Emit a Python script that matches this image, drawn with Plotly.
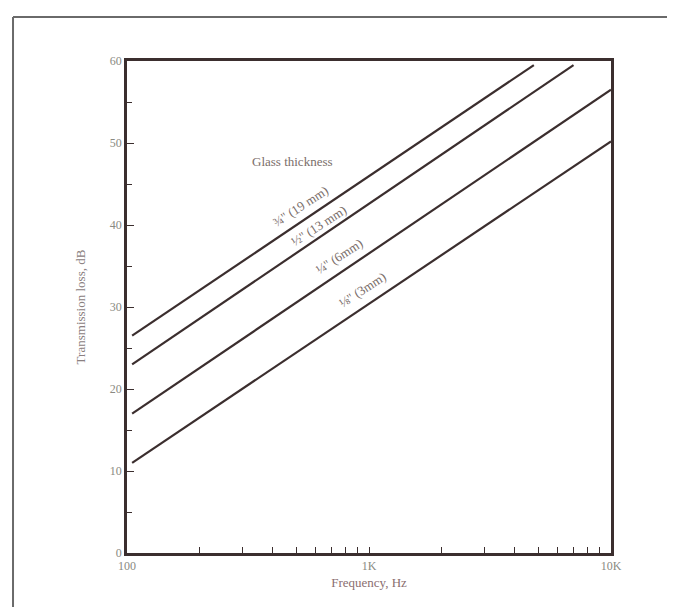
import math
import plotly.graph_objects as go

# Data (frequency in Hz, transmission loss in dB)
freq_19mm = [105, 4800]
tl_19mm = [26.5, 59.5]
freq_13mm = [105, 7000]
tl_13mm = [23.0, 59.5]
freq_6mm = [105, 10000]
tl_6mm = [17.0, 56.5]
freq_3mm = [105, 10000]
tl_3mm = [11.0, 50.2]

series_names = ["¾'' (19 mm)", "½'' (13 mm)", "¼'' (6mm)", "⅛'' (3mm)"]
label_freq = [519, 621, 752, 944]
label_tl = [42.3, 40.0, 36.1, 32.1]

x_tickvals = [100, 200, 300, 400, 500, 600, 700, 800, 900,
              1000, 2000, 3000, 4000, 5000, 6000, 7000, 8000, 9000, 10000]
x_ticktext = ["100", "", "", "", "", "", "", "", "",
              "1K", "", "", "", "", "", "", "", "", "10K"]
y_tickvals = [0, 10, 20, 30, 40, 50, 60]

LINE = "#3b2e2e"
TEXT = "#7a6e6a"
TICKFONT = dict(family="Liberation Serif", size=12, color="#8a8a82")

fig = go.Figure()
for fx, fy in [(freq_19mm, tl_19mm), (freq_13mm, tl_13mm),
               (freq_6mm, tl_6mm), (freq_3mm, tl_3mm)]:
    fig.add_trace(go.Scatter(x=fx, y=fy, mode="lines",
                             line=dict(color=LINE, width=2.2),
                             showlegend=False, hoverinfo="skip"))

for name, lx, ly in zip(series_names, label_freq, label_tl):
    fig.add_annotation(x=math.log10(lx), y=ly, xref="x", yref="y", text=name,
                       showarrow=False, textangle=-33,
                       font=dict(family="Liberation Serif", size=13, color=TEXT))

fig.add_annotation(x=math.log10(481), y=47.8, xref="x", yref="y", text="Glass thickness",
                   showarrow=False,
                   font=dict(family="Liberation Serif", size=13, color=TEXT))

# outer frame (top and left edges)
fig.add_shape(type="line", xref="paper", yref="paper",
              x0=-0.2355, x1=1.2, y0=1.0894, y1=1.0894,
              line=dict(color="#6a6a6a", width=2))
fig.add_shape(type="line", xref="paper", yref="paper",
              x0=-0.2355, x1=-0.2355, y0=1.0894, y1=-0.2,
              line=dict(color="#6a6a6a", width=2))

fig.update_xaxes(type="log", range=[2, 4], tickvals=x_tickvals, ticktext=x_ticktext,
                 ticks="inside", ticklen=6, tickwidth=1.2, tickcolor=LINE,
                 showline=True, linecolor=LINE, linewidth=2.5, mirror=True,
                 showgrid=False, zeroline=False, tickfont=TICKFONT,
                 title=dict(text="Frequency, Hz", standoff=6,
                            font=dict(family="Liberation Serif", size=13, color="#8a6e70")))
fig.update_yaxes(range=[0, 60], tickvals=y_tickvals,
                 ticks="inside", ticklen=7, tickwidth=1.2, tickcolor=LINE,
                 minor=dict(dtick=5, ticks="inside", ticklen=5, tickcolor=LINE, tickwidth=1.2),
                 showline=True, linecolor=LINE, linewidth=2.5, mirror=True,
                 showgrid=False, zeroline=False, tickfont=TICKFONT,
                 title=dict(text="Transmission loss, dB", standoff=22,
                            font=dict(family="Liberation Serif", size=13, color="#8a8080")))

fig.update_layout(width=675, height=607,
                  margin=dict(l=119, r=72, t=53, b=62),
                  paper_bgcolor="white", plot_bgcolor="white")

fig.write_html("out.html")
